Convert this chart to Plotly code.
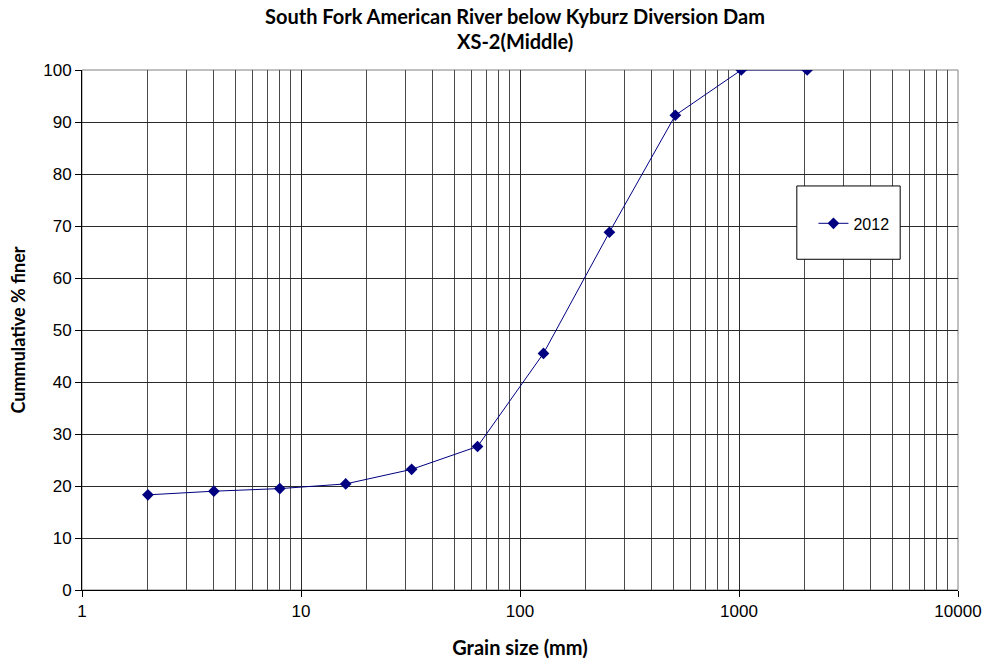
import plotly.graph_objects as go

# Sieve sizes (mm) and cumulative percent finer, 2012 survey
grain_size_mm = [2, 4, 8, 16, 32, 64, 128, 256, 512, 1024, 2048]
pct_finer_2012 = [18.3, 19.0, 19.5, 20.4, 23.2, 27.6, 45.5, 68.8, 91.3, 100, 100]

x_tick_vals = [1, 10, 100, 1000, 10000]
x_tick_text = ["1", "10", "100", "1000", "10000"]
y_tick_vals = list(range(0, 101, 10))

title_lines = ["South Fork American River below Kyburz Diversion Dam", "XS-2(Middle)"]

navy = "#000080"
grid = "#2a2a2a"
minor_grid = "#4a4a4a"
label_font = "Lato, sans-serif"
tick_font = "Liberation Sans, Arial, sans-serif"

fig = go.Figure()
fig.add_trace(go.Scatter(
    x=grain_size_mm, y=pct_finer_2012, name="2012",
    mode="lines+markers",
    line=dict(color=navy, width=1),
    marker=dict(symbol="diamond", size=9, color=navy),
))

fig.update_layout(
    width=985, height=660,
    margin=dict(l=82, r=27, t=70, b=70),
    paper_bgcolor="white", plot_bgcolor="white",
    font=dict(family=tick_font, size=17, color="black"),
    showlegend=True,
    legend=dict(
        x=0.835, y=0.705, xanchor="left", yanchor="middle",
        bgcolor="rgba(0,0,0,0)", borderwidth=0,
        font=dict(family=tick_font, size=16),
        itemwidth=30,
    ),
)

# two-line bold chart title
for text, y_px in zip(title_lines, [16, 41]):
    fig.add_annotation(
        text="<b>%s</b>" % text, xref="paper", yref="paper",
        x=0.494, y=(590 - y_px) / 520, xanchor="center", yanchor="middle",
        showarrow=False, font=dict(family=label_font, size=20, color="black"),
    )

fig.update_xaxes(
    type="log", range=[0, 4], automargin=False,
    tickvals=x_tick_vals, ticktext=x_tick_text,
    ticks="outside", ticklen=6, tickcolor="black",
    showline=True, linecolor="black", linewidth=1,
    showgrid=True, gridcolor=grid, gridwidth=1,
    minor=dict(dtick="D1", showgrid=True, gridcolor=minor_grid, gridwidth=1, ticks=""),
    title=dict(text="<b>Grain size (mm)</b>", standoff=20,
               font=dict(family=label_font, size=20)),
    zeroline=False,
)
fig.update_yaxes(
    range=[0, 100], automargin=False,
    tickvals=y_tick_vals,
    ticks="outside", ticklen=6, tickcolor="black",
    showline=True, linecolor="black", linewidth=1,
    showgrid=True, gridcolor=grid, gridwidth=1,
    title=dict(text="<b>Cummulative % finer</b>", standoff=12,
               font=dict(family=label_font, size=18)),
    zeroline=False,
)

# plot frame on the top and right edges
fig.add_shape(type="rect", xref="paper", yref="paper", x0=0, y0=0, x1=1, y1=1,
              line=dict(color="#808080", width=1), layer="below")

# legend frame
fig.add_shape(type="rect", xref="paper", yref="paper",
              x0=0.816, x1=0.934, y0=0.636, y1=0.777,
              line=dict(color="black", width=1), fillcolor="white", layer="above")

fig.write_html("out.html")
